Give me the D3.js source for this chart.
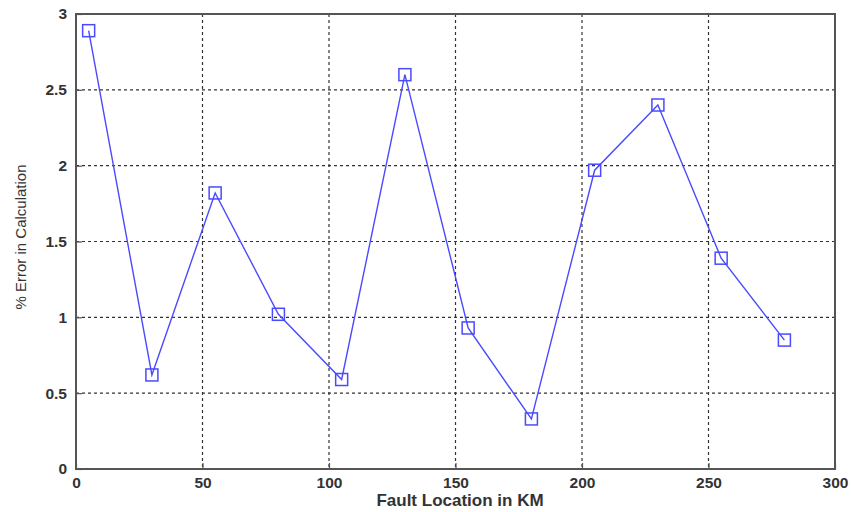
<!DOCTYPE html>
<html><head><meta charset="utf-8">
<script src="https://cdn.jsdelivr.net/npm/d3@7"></script>
<style>body{margin:0;background:#fff}</style>
</head><body>
<svg id="c" width="851" height="512"></svg>
<script>
const faultKm = [5,30,55,80,105,130,155,180,205,230,255,280];
const errorPct = [2.89,0.62,1.82,1.02,0.59,2.60,0.93,0.33,1.97,2.40,1.39,0.85];
const xTicks = [0,50,100,150,200,250,300];
const yTicks = [0,0.5,1,1.5,2,2.5,3];

const svg = d3.select("#c");
const L=76,R=835,T=14,B=469;
const x = d3.scaleLinear().domain([0,300]).range([L,R]);
const y = d3.scaleLinear().domain([0,3]).range([B,T]);
const font = "'Liberation Sans', Arial, sans-serif";

// grid
const g = svg.append("g");
g.selectAll("line.gx").data(xTicks.slice(1,-1)).enter().append("line")
 .attr("x1",d=>x(d)).attr("x2",d=>x(d)).attr("y1",T).attr("y2",B)
 .attr("stroke","#333").attr("stroke-width",1.2).attr("stroke-dasharray","3,3");
g.selectAll("line.gy").data(yTicks.slice(1,-1)).enter().append("line")
 .attr("y1",d=>y(d)).attr("y2",d=>y(d)).attr("x1",L).attr("x2",R)
 .attr("stroke","#333").attr("stroke-width",1.2).attr("stroke-dasharray","3,3");

// axes
const xa = svg.append("g").attr("transform",`translate(0,${B})`)
 .call(d3.axisBottom(x).tickValues(xTicks).tickSize(-6).tickPadding(6).tickFormat(d3.format("d")));
const ya = svg.append("g").attr("transform",`translate(${L},0)`)
 .call(d3.axisLeft(y).tickValues(yTicks).tickSize(-6).tickPadding(9).tickFormat(d=>String(d)));
[xa,ya].forEach(a=>{
  a.select(".domain").remove();
  a.selectAll(".tick line").attr("stroke","#555").attr("stroke-width",1.2);
  a.selectAll("text").attr("font-family",font).attr("font-size",15.5).attr("font-weight","bold").attr("fill","#333");
});
xa.selectAll("text").attr("dy",null).attr("y",19);
// box
svg.append("rect").attr("x",L).attr("y",T).attr("width",R-L).attr("height",B-T)
 .attr("fill","none").attr("stroke","#555").attr("stroke-width",2);

// line
const line = d3.line().x((d,i)=>x(faultKm[i])).y(d=>y(d));
svg.append("path").datum(errorPct).attr("d",line).attr("fill","none")
 .attr("stroke","#4a4aff").attr("stroke-width",1.4);
svg.selectAll("rect.m").data(errorPct).enter().append("rect")
 .attr("x",(d,i)=>x(faultKm[i])-6).attr("y",d=>y(d)-6).attr("width",12).attr("height",12)
 .attr("fill","none").attr("stroke","#4a4aff").attr("stroke-width",1.5);

// labels
svg.append("text").attr("x",460).attr("y",506).attr("text-anchor","middle")
 .attr("font-family",font).attr("font-size",17).attr("font-weight","bold").attr("fill","#333")
 .text("Fault Location in KM");
svg.append("text").attr("transform",`translate(26,237) rotate(-90)`).attr("text-anchor","middle")
 .attr("font-family",font).attr("font-size",15).attr("fill","#333")
 .text("% Error in Calculation");
</script>
</body></html>
